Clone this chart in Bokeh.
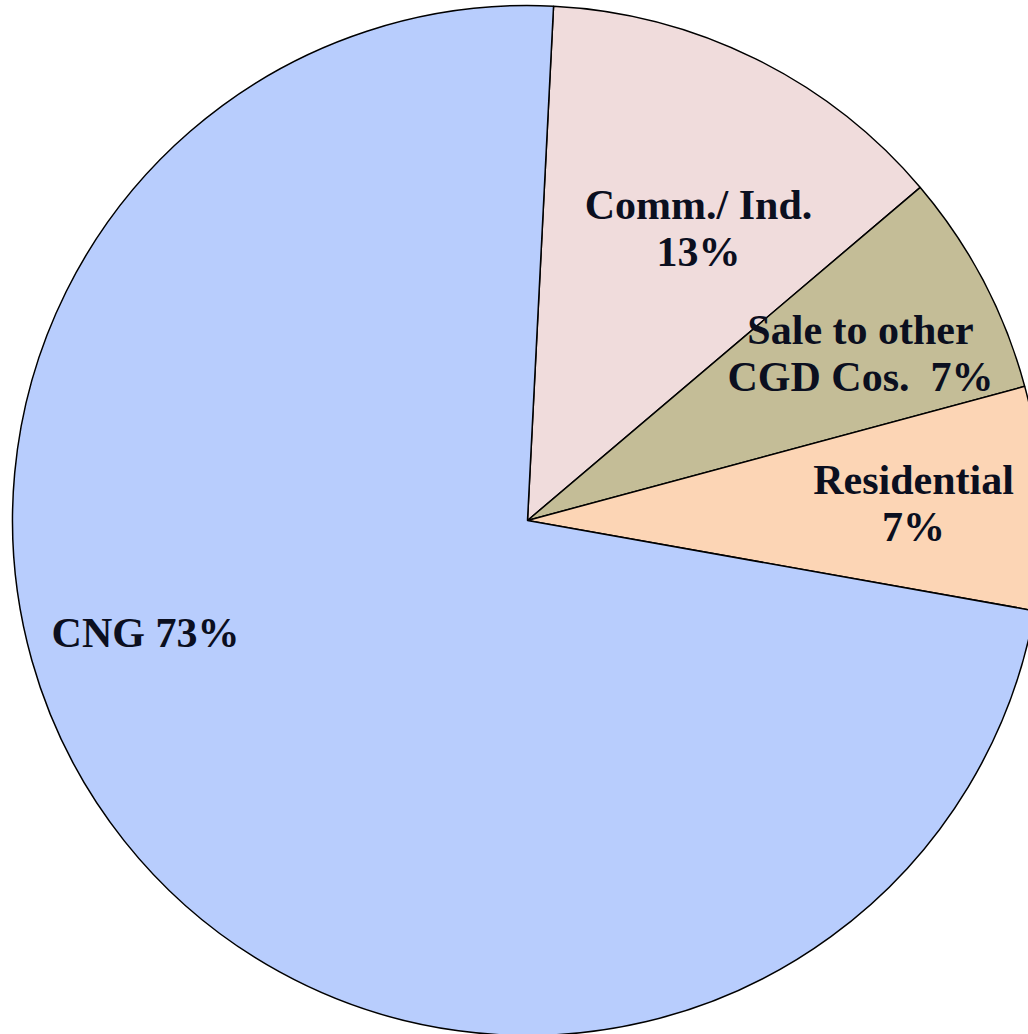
import math
from bokeh.plotting import figure
from bokeh.models import Range1d, ColumnDataSource
from bokeh.core.properties import value
from bokeh.embed import file_html
from bokeh.resources import INLINE

# Data (clockwise from near 12 o'clock)
categories = ["Comm./ Ind.", "Sale to other CGD Cos.", "Residential", "CNG"]
shares = [13, 7, 7, 73]
label_texts = ["Comm./ Ind.\n13%", "Sale to other\nCGD Cos.\u00a0\u00a07%", "Residential\n7%", "CNG 73%"]
colors = ["#f0dcdc", "#c4bd97", "#fcd5b5", "#b8cdfd"]

W, H = 1028, 1034
cx, cy, R = 527, 514, 515
start_deg = 87.1  # first boundary, measured anticlockwise from +x

p = figure(width=W, height=H, output_backend="svg", toolbar_location=None,
           x_range=Range1d(0, W), y_range=Range1d(0, H), min_border=0)
p.axis.visible = False
p.grid.visible = False
p.outline_line_color = None
p.background_fill_color = "white"

total = sum(shares)
starts, ends = [], []
a = math.radians(start_deg)
for s in shares:
    span = 2 * math.pi * s / total
    starts.append(a)
    ends.append(a - span)
    a -= span

src = ColumnDataSource(dict(start=starts, end=ends, color=colors, cat=categories))
p.wedge(x=cx, y=cy, radius=R, start_angle="start", end_angle="end", direction="clock",
        fill_color="color", line_color="black", line_width=1.5, source=src)

# label offsets from pie centre (pixels)
offsets = [(171, 292), (333, 167), (386, 17), (-382, -112)]
lx = [cx + dx for dx, dy in offsets]
ly = [cy + dy for dx, dy in offsets]
p.text(x=lx, y=ly, text=label_texts, text_align="center", text_baseline="middle",
       text_font=value("Liberation Serif"), text_font_style="bold",
       text_font_size="42px", text_color="#0b0f1f", text_line_height=1.02)

open("out.html", "w").write(file_html(p, INLINE))
